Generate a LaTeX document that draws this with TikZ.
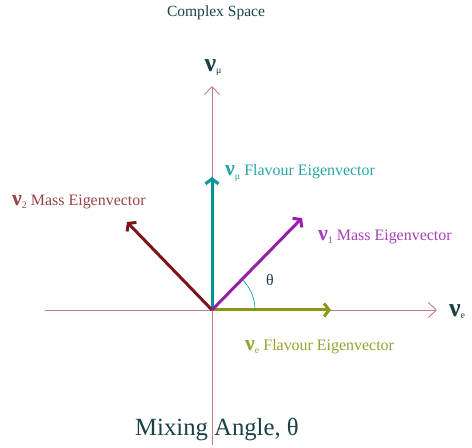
\documentclass[tikz,border=0pt]{standalone}
\usepackage{fontspec}
\setmainfont{Liberation Serif}
\usetikzlibrary{arrows.meta}

\newcommand{\nulab}[2][22]{{\fontsize{#1}{#1}\selectfont\bfseries ν}\raisebox{-0.2em}{\fontsize{10}{10}\selectfont #2}}

\begin{document}
\begin{tikzpicture}[x=1bp,y=1bp,
    txt/.style={font=\fontsize{16}{16}\selectfont, inner sep=0pt},
    vec/.style={line width=3bp, -{Straight Barb[length=5bp,width=13bp]}},
    axis/.style={axiscol, line width=0.9bp, -{Straight Barb[length=8bp,width=15bp]}}]
    \definecolor{axiscol}{RGB}{190,125,130}
    \definecolor{labteal}{RGB}{25,65,70}
    \definecolor{mutealcol}{RGB}{0,150,150}
    \definecolor{nutwocol}{RGB}{125,20,25}
    \definecolor{nuonecol}{RGB}{150,30,170}
    \definecolor{nuecol}{RGB}{140,150,20}

    \useasboundingbox (-212,-138) rectangle (260,310);

    % axes
    \coordinate (O) at (0,0);
    \coordinate (xleft) at (-167,0);
    \coordinate (xright) at (225,0);
    \coordinate (ybot) at (0,-135);
    \coordinate (ytop) at (0,224);
    \draw[axis] (xleft) -- (xright);
    \draw[axis] (ybot) -- (ytop);
    \node[labteal, inner sep=0pt] (nuelab) at (245,-2) {\nulab[26]{e}};
    \node[labteal, inner sep=0pt] (numulab) at (1,242) {\nulab[26]{μ}};

    % eigenvectors
    \coordinate (mutip) at (0,133);
    \coordinate (etip) at (119,0);
    \coordinate (twotip) at (-85,88);
    \coordinate (onetip) at (90,92);
    \draw[vec, nuecol] (O) -- (etip);
    \draw[vec, mutealcol] (O) -- (mutip);
    \draw[vec, nutwocol] (O) -- (twotip);
    \draw[vec, nuonecol] (O) -- (onetip);

    % labels
    \node[txt, anchor=west, mutealcol!85!white] (mulab) at (13,137)
        {\nulab{μ} Flavour Eigenvector};
    \node[txt, anchor=west, nutwocol!80!white] (twolab) at (-200,108)
        {\nulab{2} Mass Eigenvector};
    \node[txt, anchor=west, nuonecol!85!white] (onelab) at (106,73)
        {\nulab{1} Mass Eigenvector};
    \node[txt, anchor=west, nuecol!90!white] (elab) at (33,-37)
        {\nulab{e} Flavour Eigenvector};

    % mixing angle
    \draw[mutealcol, line width=0.6bp] (43,0) arc (0:45:43);
    \node[txt, labteal] (theta) at (58,30) {θ};

    % titles
    \node[labteal, inner sep=0pt, font=\fontsize{15.6}{16}\selectfont] (title) at (4,297) {Complex Space};
    \node[labteal, inner sep=0pt, font=\fontsize{24.8}{25}\selectfont] (caption) at (5,-120)
        {Mixing Angle, θ};
\end{tikzpicture}
\end{document}
